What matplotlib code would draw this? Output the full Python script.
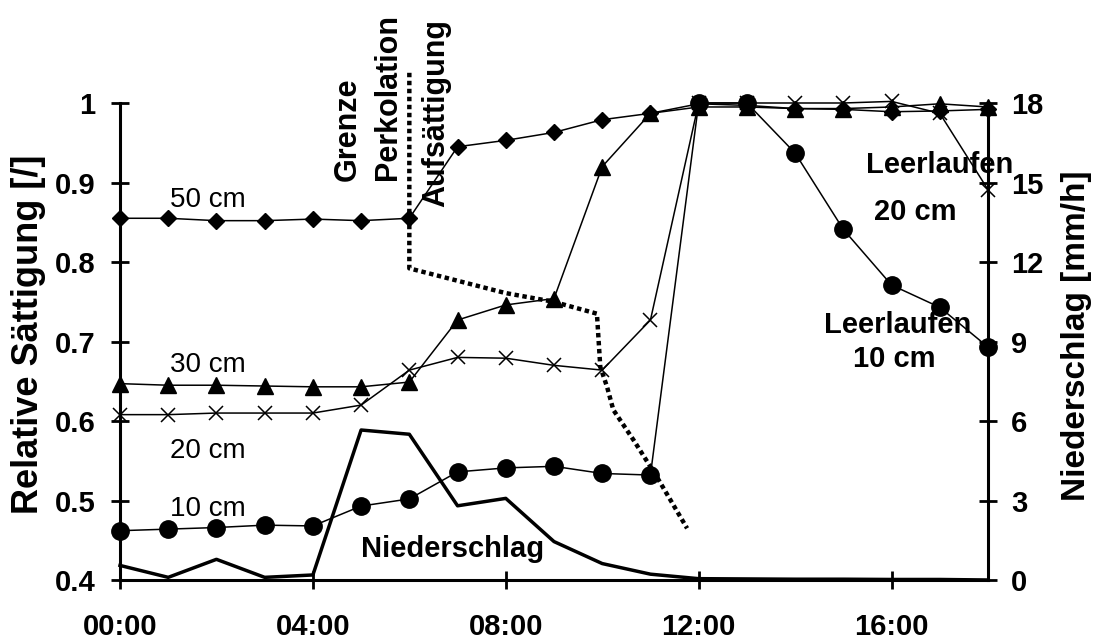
import matplotlib
matplotlib.use("Agg")
import matplotlib.pyplot as plt

plt.rcParams['font.family'] = ['Liberation Sans', 'DejaVu Sans']

# hours 00:00 .. 18:00
hours = list(range(19))
s50 = [0.855, 0.855, 0.852, 0.852, 0.854, 0.852, 0.855, 0.945, 0.953, 0.963,
       0.979, 0.987, 0.999, 0.997, 0.993, 0.992, 0.989, 0.990, 0.992]
s30 = [0.647, 0.645, 0.645, 0.644, 0.643, 0.643, 0.649, 0.727, 0.746, 0.754,
       0.920, 0.987, 0.995, 0.995, 0.993, 0.993, 0.995, 0.999, 0.995]
s20 = [0.608, 0.608, 0.610, 0.610, 0.610, 0.620, 0.664, 0.680, 0.679, 0.670,
       0.664, 0.727, 1.000, 1.000, 1.000, 1.000, 1.002, 0.987, 0.891]
s10 = [0.462, 0.464, 0.466, 0.469, 0.468, 0.493, 0.502, 0.536, 0.541, 0.543,
       0.534, 0.532, 1.000, 1.000, 0.937, 0.841, 0.771, 0.743, 0.693]
rain = [0.55, 0.10, 0.78, 0.10, 0.19, 5.66, 5.50, 2.80, 3.08, 1.45,
        0.62, 0.22, 0.05, 0.04, 0.03, 0.03, 0.02, 0.02, 0.0]

# hand drawn boundary percolation / saturation
bound_h = [6.0, 6.0, 7.99, 8.99, 9.89, 9.96, 10.1, 10.23, 10.65, 11.13, 11.76]
bound_v = [1.038, 0.792, 0.761, 0.75, 0.735, 0.668, 0.643, 0.614, 0.576, 0.530, 0.465]

xticks = [0, 4, 8, 12, 16]
xlabels = ["00:00", "04:00", "08:00", "12:00", "16:00"]
yticks = [0.4, 0.5, 0.6, 0.7, 0.8, 0.9, 1.0]
ylabels = ["0.4", "0.5", "0.6", "0.7", "0.8", "0.9", "1"]
rticks = [0, 3, 6, 9, 12, 15, 18]

W, H = 1096, 644
fig = plt.figure(figsize=(W / 100, H / 100), dpi=100)
ax = fig.add_axes([120 / W, 1 - 580 / H, 868 / W, 477 / H])
ax2 = ax.twinx()

ax.set_zorder(ax2.get_zorder() + 1)
ax.patch.set_visible(False)

lw = 1.1
ax.plot(hours, s50, color="black", lw=lw, marker="D", ms=8.5, clip_on=False)
ax.plot(hours, s30, color="black", lw=lw, marker="^", ms=12, clip_on=False)
ax.plot(hours, s20, color="black", lw=lw, marker="x", ms=9.5, mew=1.1, clip_on=False)
ax.plot(hours, s10, color="black", lw=lw, marker="o", ms=12.5, clip_on=False)
ax.plot(bound_h, bound_v, color="black", lw=3.2, linestyle=(0, (1, 0.8)),
        clip_on=False)

ax2.plot(hours, rain, color="black", lw=2.5, clip_on=False)

ax.set_xlim(0, 18)
ax.set_ylim(0.4, 1.0)
ax2.set_ylim(0, 18)

for a in (ax, ax2):
    a.spines["top"].set_visible(False)
    for s in a.spines.values():
        s.set_linewidth(2.2)

ax.spines["right"].set_visible(False)
ax2.spines["left"].set_visible(False)
ax2.spines["bottom"].set_visible(False)

ax.set_xticks(xticks)
ax.set_xticklabels(xlabels, fontsize=21, fontweight="bold")
ax.set_yticks(yticks)
ax.set_yticklabels(ylabels, fontsize=21, fontweight="bold")
ax2.set_yticks(rticks)
ax2.set_yticklabels([str(t) for t in rticks], fontsize=21, fontweight="bold")

ax.tick_params(axis="y", direction="inout", length=13.5, width=2, pad=11)
ax.tick_params(axis="x", direction="inout", length=13.5, width=2, pad=17)
ax2.tick_params(axis="y", direction="inout", length=13.5, width=2, pad=10)

fig.text(29 / W, 1 - 334 / H, "Relative Sättigung [/]", rotation=90,
         fontsize=26, fontweight="bold", ha="center", va="center")
fig.text(1077 / W, 1 - 336 / H, "Niederschlag [mm/h]", rotation=90,
         fontsize=24, fontweight="bold", ha="center", va="center")

# depth labels
for txt, yv in [("50 cm", 0.869), ("30 cm", 0.662), ("20 cm", 0.553), ("10 cm", 0.480)]:
    ax.text(1.83, yv, txt, fontsize=20, ha="center", va="baseline")

ax.text(6.89, 0.429, "Niederschlag", fontsize=21, fontweight="bold",
        ha="center", va="baseline")
ax.text(17.0, 0.912, "Leerlaufen", fontsize=21, fontweight="bold",
        ha="center", va="baseline", clip_on=False)
ax.text(16.5, 0.853, "20 cm", fontsize=21, fontweight="bold",
        ha="center", va="baseline")
ax.text(16.12, 0.711, "Leerlaufen", fontsize=21, fontweight="bold",
        ha="center", va="baseline")
ax.text(16.06, 0.668, "10 cm", fontsize=21, fontweight="bold",
        ha="center", va="baseline")

ax.text(4.72, 0.967, "Grenze", rotation=90, fontsize=22, fontweight="bold",
        ha="center", va="center", clip_on=False)
ax.text(5.55, 1.007, "Perkolation", rotation=90, fontsize=22, fontweight="bold",
        ha="center", va="center", clip_on=False)
ax.text(6.56, 0.987, "Aufsättigung", rotation=90, fontsize=22, fontweight="bold",
        ha="center", va="center", clip_on=False)

fig.savefig("out.png", dpi=100)
